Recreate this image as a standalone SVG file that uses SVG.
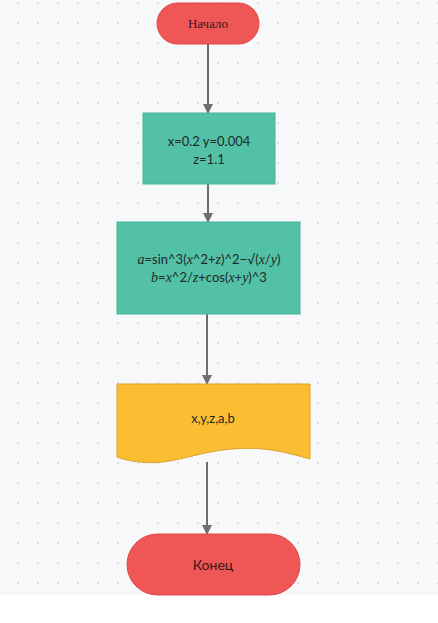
<svg xmlns="http://www.w3.org/2000/svg" width="438" height="623" viewBox="0 0 438 623">
<defs>
<pattern id="dots" x="0" y="0" width="20" height="20" patternUnits="userSpaceOnUse">
<circle cx="18" cy="3" r="1" fill="#d6d7db"/>
</pattern>
<marker id="arr" viewBox="0 0 10 10" refX="9" refY="5" markerWidth="10" markerHeight="10" markerUnits="userSpaceOnUse" orient="auto">
<path d="M0,0 L10,5 L0,10 z" fill="#6e6e6e"/>
</marker>
<style>
.edge{stroke:#6e6e6e;stroke-width:2;fill:none}
.term{fill:#ef5656;stroke:#e04848;stroke-width:1}
.proc{fill:#52c1a6;stroke:#4ab59b;stroke-width:1}
.doc{fill:#fbbe32;stroke:#d9a02c;stroke-width:1}
.t{font-family:"Lato","Liberation Sans",sans-serif;font-size:13px;fill:#1f2a26;text-anchor:middle}
.i{font-family:"Liberation Serif",serif;font-style:italic;font-size:14px}
</style>
</defs>
<rect width="438" height="623" fill="#ffffff"/>
<rect width="438" height="595" fill="#f7f8fa"/>
<rect width="438" height="595" fill="url(#dots)"/>
<g id="connectors">
<line class="edge" x1="208" y1="44" x2="208" y2="113" marker-end="url(#arr)"/>
<line class="edge" x1="208" y1="184" x2="208" y2="222" marker-end="url(#arr)"/>
<line class="edge" x1="207" y1="314" x2="207" y2="384" marker-end="url(#arr)"/>
<line class="edge" x1="207" y1="462" x2="207" y2="534" marker-end="url(#arr)"/>
</g>
<g id="start">
<rect class="term" x="157" y="3" width="102" height="41" rx="20.5"/>
<text x="208" y="28" style="font-family:'Liberation Serif',serif;font-size:13px;fill:#3a1414;text-anchor:middle">Начало</text>
</g>
<g id="init">
<rect class="proc" x="143" y="113" width="132" height="71"/>
<text class="t" x="209" y="146">x=0.2 y=0.004</text>
<text class="t" x="209" y="164">z=1.1</text>
</g>
<g id="calc">
<rect class="proc" x="117" y="222" width="183" height="92"/>
<text class="t" x="209" y="264"><tspan class="i">a</tspan>=sin^3(<tspan class="i">x</tspan>^2+<tspan class="i">z</tspan>)^2−√(<tspan class="i">x</tspan>/<tspan class="i">y</tspan>)</text>
<text class="t" x="209" y="282"><tspan class="i">b</tspan>=<tspan class="i">x</tspan>^2/<tspan class="i">z</tspan>+cos(<tspan class="i">x</tspan>+<tspan class="i">y</tspan>)^3</text>
</g>
<g id="output">
<path class="doc" d="M117,384 H310 V459 C285,452 262,446 232,449 C195,452 170,466 140,462 C130,461 122,459 117,457 Z"/>
<text class="t" x="213" y="423">x,y,z,a,b</text>
</g>
<g id="end">
<rect class="term" x="127" y="534" width="173" height="61" rx="30.5"/>
<text x="213" y="570" style="font-family:'Lato','Liberation Sans',sans-serif;font-size:14px;fill:#3a1414;text-anchor:middle">Конец</text>
</g>
</svg>
